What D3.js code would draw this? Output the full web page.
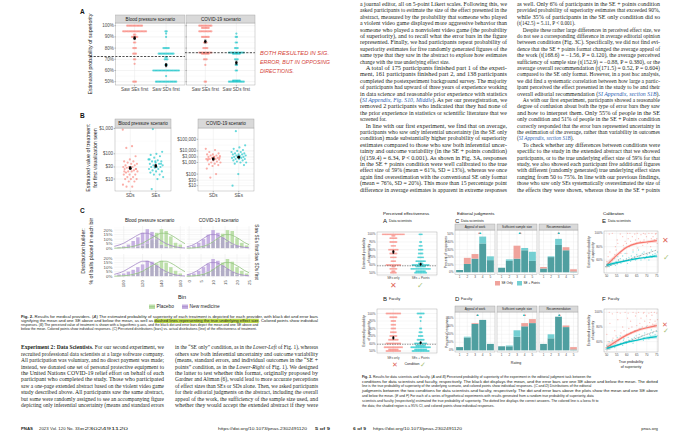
<!DOCTYPE html>
<html><head><meta charset="utf-8">
<script src="https://cdn.jsdelivr.net/npm/d3@7/dist/d3.min.js"></script>
<style>html,body{margin:0;padding:0;background:#fff}svg{display:block}</style>
</head><body>
<svg id="c" width="680" height="441" xmlns="http://www.w3.org/2000/svg"></svg>
<script>
// ================= DATA =================
// ---- Fig. 2A : probability of superiority (value %, number of responses) ----
const fig2Scenarios = ["Blood pressure scenario", "COVID-19 scenario"];
const fig2AConds = ["Saw SEs first", "Saw SDs first"];
const fig2APctTicks = [50, 60, 70, 80, 90, 100];
const fig2A_bp_SEs = [[100,12],[95,18],[92,2],[90,5],[85,2],[80,3],[75,3],[70,2],[66,1],[50,3]];
const fig2A_bp_SDs = [[95,2],[93,1],[90,1],[80,5],[75,12],[72,2],[70,3],[65,2],[60,20],[55,1],[50,16]];
const fig2A_cv_SEs = [[100,10],[98,6],[95,10],[90,6],[85,3],[80,4],[76,10],[75,6],[70,3],[65,1],[50,2]];
const fig2A_cv_SDs = [[93,1],[90,2],[85,2],[80,3],[76,12],[75,6],[70,3],[65,2],[60,2],[51,6],[50,12]];
const fig2A_bp_means = [[88.9,1.3],[64.8,1.4]];
const fig2A_cv_means = [[85.9,1.3],[66.9,1.4]];
const fig2A_trueEffect = [72.5, 75.9];
const fig2A_note = ["BOTH RESULTED IN SIG.", "ERROR, BUT IN OPPOSING", "DIRECTIONS."];

// ---- Fig. 2B : estimated value of treatment ($) ----
const fig2BConds = ["SDs", "SEs"];
const fig2B_bpTicks = [10, 30, 100, 1000];
const fig2B_cvTicks = [10, 30, 100, 1000, 3000, 10000, 100000];
const fig2B_bp_SDs = [900,200,170,80,60,50,50,45,40,40,35,35,30,30,30,28,25,25,25,22,20,20,20,18,15,15,15,12,12,10,10,10,8,8,6,5,5,25,30,20];
const fig2B_bp_SEs = [950,120,100,90,80,70,60,55,50,50,45,40,40,35,35,30,30,30,28,25,25,22,20,20,18,15,15,12,10,4,40,50,60];
const fig2B_cv_SDs = [15000,12000,8000,6000,5000,5000,4000,4000,3500,3000,3000,2500,2500,2000,2000,2000,1800,1500,1500,1200,1000,1000,800,700,600,500,300,100,50,2500,3000,2000];
const fig2B_cv_SEs = [500000,30000,20000,15000,12000,10000,8000,8000,6000,6000,5000,5000,5000,4000,4000,3500,3000,3000,3000,2500,2500,2000,2000,2000,1500,1500,1200,1000,1000,800,600,100,10];
const fig2B_bp_means = [[27,24,31],[33,29,38]];
const fig2B_cv_means = [[2000,1650,2450],[2900,2400,3500]];

// ---- Fig. 2C : distribution builder (% of balls per bin) ----
const fig2C_rows = ["Saw SEs first", "Saw SDs first"];
const fig2C_legend = ["Placebo", "New medicine"];
const fig2C_bpBins = [95,100,105,110,115,120,125,130,135,140,145,150,155,160];
const fig2C_bp_SEs_new  = [1,2,4,8,12,17,21,18,10,4,2,1,0,0];
const fig2C_bp_SEs_plac = [0,0,0,1,2,3,5,9,17,21,19,13,6,4];
const fig2C_bp_SDs_new  = [2,3,5,7,10,13,17,16,12,8,4,2,1,0];
const fig2C_bp_SDs_plac = [0,1,1,2,4,6,9,12,14,17,15,10,6,3];
const fig2C_cvBins = [0,2,4,6,8,10,12,14,16,18,20,22,24];
const fig2C_cv_SEs_new  = [1,3,6,10,15,20,17,12,7,4,3,1,1];
const fig2C_cv_SEs_plac = [0,0,1,2,4,7,11,16,20,19,11,6,3];
const fig2C_cv_SDs_new  = [2,3,6,10,14,19,17,12,8,5,2,1,1];
const fig2C_cv_SDs_plac = [0,1,2,3,5,8,12,15,19,16,10,6,3];
const fig2C_bpCurveX    = [90,95,100,105,110,115,120,125,130,135,140,145,150,155,160,165];
const fig2C_bpCurveNew  = [2,3.5,5.5,8.5,11.5,14.5,16.5,16.5,14.5,11.5,8,5,2.8,1.4,0.6,0.2];
const fig2C_bpCurvePlac = [0,0.2,0.5,1,2,3.5,5.5,8.5,11.5,14.5,16.5,16.5,14.5,11.5,8,5];
const fig2C_cvCurveX    = [-1,1,3,5,7,9,11,13,15,17,19,21,23,25];
const fig2C_cvCurveNew  = [1.5,3,5.5,9,12.5,15,15,13,10,6.5,3.8,2,1,0.4];
const fig2C_cvCurvePlac = [0,0.2,0.6,1.5,3,5.5,9,12.5,15,15,13,10,6.5,3.8];
const fig2C_bpTicks = [100,120,140,160];
const fig2C_cvTicks = [0,5,10,15,20,25];
const fig2C_pctTicks = [0,5,10,15,20];

// ---- Fig. 3A/B : perceived effectiveness (value %, count) ----
const fig3Conds = ["SEs only", "SEs + Points"];
const fig3_trueEffect = 59;
const fig3A_SEonly = [[100,18],[98,3],[95,6],[90,6],[85,4],[80,8],[78,2],[75,6],[70,5],[65,4],[60,12],[58,3],[55,6],[52,3],[50,5]];
const fig3A_SEpts  = [[100,3],[90,2],[85,3],[80,4],[75,4],[70,5],[65,8],[62,4],[60,14],[58,8],[55,16],[52,8],[50,10]];
const fig3B_SEonly = [[100,12],[95,6],[90,4],[85,4],[80,4],[75,5],[70,6],[65,8],[60,12],[55,15],[52,8],[50,12]];
const fig3B_SEpts  = [[100,6],[95,2],[90,1],[80,2],[75,3],[70,4],[65,6],[60,10],[57,8],[55,16],[52,10],[50,14]];
const fig3A_means = [[77,2],[61,1.4]];
const fig3B_means = [[67.5,1.8],[61,1.3]];

// ---- Fig. 3C/D : editorial judgments (% of responses by rating 1..5) ----
const fig3Facets = ["Appeal of work", "Sufficient sample size", "Recommendation"];
const fig3Ratings = [1,2,3,4,5];
const fig3C_SEonly = [[3,19,24,38,16],[6,15,35,29,15],[7,20,36,33,4]];
const fig3C_SEpts  = [[3,11,18,47,21],[6,17,18,32,27],[5,21,44,29,1]];
const fig3D_SEonly = [[4,16,34,38,8],[5,5,17,34,39],[8,15,42,31,4]];
const fig3D_SEpts  = [[4,17,33,38,8],[5,6,25,30,34],[8,20,42,29,1]];
const fig3C_meanRed = [3.55,3.45,3.0], fig3C_meanTeal = [3.7,3.35,3.05];
const fig3D_meanRed = [3.3,4.05,3.15], fig3D_meanTeal = [3.35,3.9,3.1];
const fig3C_legend = ["SE Only", "SE + Points"];

// ---- Fig. 3E/F : calibration (true %, estimated %) ----
const fig3E_SEonly = [[50,50],[50,58],[51,65],[51,99],[52,55],[52,72],[53,62],[53,100],[54,80],[54,68],[55,75],[55,90],[56,60],[56,85],[57,70],[57,99],[58,82],[58,95],[59,78],[59,88],[60,85],[60,100],[60,70],[61,92],[61,80],[62,88],[62,100],[63,75],[63,95],[64,90],[64,99],[65,85],[65,100],[66,92],[66,78],[67,98],[67,88],[68,100],[68,82],[69,90],[69,99],[70,95],[70,85],[71,100],[71,88],[72,92],[72,80],[73,100],[73,95],[74,90],[74,99],[75,92],[75,100],[75,85]];
const fig3E_SEpts  = [[50,50],[50,53],[51,55],[51,50],[52,52],[52,58],[53,55],[53,60],[54,52],[54,62],[55,58],[55,54],[56,60],[56,65],[57,55],[57,62],[58,60],[58,66],[59,58],[59,70],[60,62],[60,55],[61,64],[61,60],[62,66],[62,58],[63,62],[63,72],[64,65],[64,60],[65,68],[65,62],[66,64],[66,75],[67,66],[67,60],[68,70],[68,64],[69,62],[69,72],[70,68],[70,65],[71,70],[71,60],[72,66],[72,75],[73,68],[73,64],[74,70],[74,66],[75,72],[75,65]];
const fig3F_SEonly = [[50,52],[50,70],[51,60],[51,100],[52,55],[52,85],[53,65],[53,98],[54,58],[54,75],[55,68],[55,100],[56,62],[56,90],[57,72],[57,99],[58,66],[58,80],[59,75],[59,100],[60,70],[60,92],[61,78],[61,99],[62,72],[62,88],[63,80],[63,100],[64,75],[64,95],[65,82],[65,99],[66,78],[66,100],[67,85],[67,92],[68,80],[68,99],[69,88],[69,100],[70,82],[70,95],[71,86],[71,99],[72,90],[72,100],[73,84],[73,96],[74,88],[74,100],[75,90],[75,99]];
const fig3F_SEpts  = [[50,50],[50,55],[51,52],[51,60],[52,54],[52,50],[53,58],[53,62],[54,55],[54,52],[55,60],[55,66],[56,56],[56,62],[57,58],[57,68],[58,62],[58,55],[59,64],[59,60],[60,58],[60,70],[61,62],[61,66],[62,60],[62,72],[63,64],[63,58],[64,66],[64,75],[65,62],[65,68],[66,70],[66,64],[67,66],[67,78],[68,68],[68,62],[69,72],[69,66],[70,65],[70,80],[71,70],[71,64],[72,68],[72,76],[73,72],[73,66],[74,70],[74,82],[75,68],[75,74]];
// loess fits: [true %, fit, lower, upper]
const fig3E_fitRed  = [[50,52,47,57],[55,67,64,70],[60,79,77,81],[65,85,83,87],[70,87,85,89],[75,89,86,92]];
const fig3E_fitTeal = [[50,52,49,55],[55,56,54,58],[60,59,57.5,60.5],[65,62,60.5,63.5],[70,64,62.5,65.5],[75,66,63.5,68.5]];
const fig3F_fitRed  = [[50,52,47,57],[55,61,58,64],[60,69,67,71],[65,75,73,77],[70,79,77,81],[75,82,79,85]];
const fig3F_fitTeal = [[50,51,48,54],[55,55,53,57],[60,59,57.5,60.5],[65,62,60.5,63.5],[70,65,63,67],[75,67,64.5,69.5]];
const fig3_xTicks = [50,55,60,65,70,75];
const fig3_yTicks = [60,80,100];

// ---- Page text ----
const p5ColA = [
"**Experiment 2: Data Scientists.** For our second experiment, we",
"recruited professional data scientists at a large software company.",
"All participation was voluntary, and no direct payment was made;",
"instead, we donated one set of personal protective equipment to",
"the United Nations COVID-19 relief effort on behalf of each",
"participant who completed the study. Those who participated",
"saw a one-page extended abstract based on the violent video game",
"study described above. All participants saw the same abstract,",
"but some were randomly assigned to see an accompanying figure",
"depicting only inferential uncertainty (means and standard errors"];
const p5ColB = [
"in the “SE only” condition, as in the *Lower-Left* of Fig. 1), whereas",
"others saw both inferential uncertainty and outcome variability",
"(means, standard errors, and individual outcomes in the “SE +",
"points” condition, as in the *Lower-Right* of Fig. 1). We designed",
"the latter to test whether this format, originally proposed by",
"Gardner and Altman (6), would lead to more accurate perceptions",
"of effect sizes than SEs or SDs alone. Then, we asked participants",
"for their editorial judgments on the abstract, including the overall",
"appeal of the work, the sufficiency of the sample size used, and",
"whether they would accept the extended abstract if they were"];
const p6ColA = [
"a journal editor, all on 5-point Likert scales. Following this, we",
"asked participants to estimate the size of the effect presented in the",
"abstract, measured by the probability that someone who played",
"a violent video game displayed more aggressive behavior than",
"someone who played a nonviolent video game (the probability",
"of superiority), and to recall what the error bars in the figure",
"represented. Finally, we had participants repeat probability of",
"superiority estimates for five randomly generated figures of the",
"same type that they saw in the abstract to explore how estimates",
"change with the true underlying effect size.",
"  A total of 175 participants finished part 1 of the experi-",
"ment, 161 participants finished part 2, and 138 participants",
"completed the postexperiment background survey. The majority",
"of participants had upward of three years of experience working",
"in data science and reasonable prior experience with statistics",
"([[SI Appendix, Fig. S10, Middle]]). As per our preregistration, we",
"removed 2 participants who indicated that they had none of",
"the prior experience in statistics or scientific literature that we",
"screened for.",
"  In line with our first experiment, we find that on average,",
"participants who saw only inferential uncertainty (in the SE only",
"condition) made substantially higher probability of superiority",
"estimates compared to those who saw both inferential uncer-",
"tainty and outcome variability (in the SE + points condition)",
"(t(159.4) = 6.34, P < 0.001). As shown in Fig. 3A, responses",
"in the SE + points condition were well calibrated to the true",
"effect size of 59% (mean = 61%, SD = 13%), whereas we once",
"again find overestimation with the conventional SE only format",
"(mean = 76%, SD = 20%). This more than 15 percentage point",
"difference in average estimates is apparent in extreme responses"];
const p6ColB = [
"as well. Only 6% of participants in the SE + points condition",
"provided probability of superiority estimates that exceeded 90%,",
"while 35% of participants in the SE only condition did so",
"(t(142.5) = 5.11, P < 0.001).",
"  Despite these rather large differences in perceived effect size, we",
"do not see a corresponding difference in average editorial opinion",
"between conditions (Fig. 3C). Specifically, we did not find evi-",
"dence that the SE + points format changed the average appeal of",
"the work (t(168.6) = −1.56, P = 0.120), the average perceived",
"sufficiency of sample size (t(152.9) = −0.88, P = 0.380), or the",
"average overall recommendation (t(171.5) = 0.52, P = 0.604)",
"compared to the SE only format. However, in a post hoc analysis,",
"we did find a systematic correlation between how large a partic-",
"ipant perceived the effect presented in the study to be and their",
"overall editorial recommendation ([[SI Appendix, section S1B]]).",
"  As with our first experiment, participants showed a reasonable",
"degree of confusion about both the type of error bars they saw",
"and how to interpret them. Only 55% of people in the SE",
"only condition and 51% of people in the SE + Points condition",
"correctly responded that the error bars represented uncertainty in",
"the estimation of the average, rather than variability in outcomes",
"([[SI Appendix, section S1B]]).",
"  To check whether any differences between conditions were",
"specific to the study in the extended abstract that we showed",
"participants, or to the true underlying effect size of 59% for that",
"study, we also showed each participant five additional figures",
"with different (randomly generated) true underlying effect sizes",
"ranging from 50 to 75%. In line with our previous findings,",
"those who saw only SEs systematically overestimated the size of",
"the effects they were shown, whereas those in the SE + points"];
const fig2Caption = [
"**Fig. 2.**   Results for medical providers. (*A*) The estimated probability of superiority of each treatment is depicted for each provider, with black dot and error bars",
"signifying the mean and one SE above and below the mean, as well as ==dashed lines representing the true underlying effect size==. Colored points show individual",
"responses. (*B*) The perceived value of treatment is shown with a logarithmic y-axis, and the black dot and error bars depict the mean and one SE above and",
"below the mean. Colored points show individual responses. (*C*) Perceived distributions (bars) vs. actual distributions (line) of the effectiveness of treatment."];
const fig3Caption = [
"**Fig. 3.**   Results for data scientists and faculty. (*A* and *B*) Perceived probability of superiority of the experiment in the editorial judgment task between the",
"conditions for data scientists and faculty, respectively. The black dot displays the mean, and the error bars are one SE above and below the mean. The dotted",
"line is the true probability of superiority of the underlying scenario, and colored points show individual responses. (*C* and *D*) Distributions of the editorial",
"judgments between the two conditions for data scientists and faculty, respectively. The dot and error bars above the plots show the mean and one SE above",
"and below the mean. (*E* and *F*) For each of a series of hypothetical experiments with results generated from a random true probability of superiority, data",
"scientists and faculty (respectively) estimated the true probability of superiority. The dotted line displays the correct answers. The colored line is a loess fit to",
"the data; the shaded region is a 95% CI, and colored points show individual responses."];

// ================= DRAWING =================
const svg = d3.select("#c");
const SANS = "'Liberation Sans', Arial, Helvetica, sans-serif";
const SERIF = "'Liberation Serif', 'Times New Roman', serif";
const RED = "#F8766D", TEAL = "#00BFC4";
const GRID = "#e9e9e9", GRIDm = "#f4f4f4", BORDER = "#9a9a9a";
R(svg, 0, 0, 680, 441, "#fff");

function T(g,x,y,s,o={}){
  const t=g.append("text").attr("x",x).attr("y",y).text(s)
    .attr("font-family",o.ff||SANS).attr("font-size",o.fs||4)
    .attr("fill",o.fill||"#333").attr("text-anchor",o.anchor||"start")
    .attr("dominant-baseline","central");
  if(o.bold)t.attr("font-weight","bold");
  if(o.italic)t.attr("font-style","italic");
  if(o.rot)t.attr("transform",`rotate(${o.rot},${x},${y})`);
  if(o.len)t.attr("textLength",o.len).attr("lengthAdjust","spacingAndGlyphs");
  if(o.ls)t.attr("letter-spacing",o.ls);
  return t;
}
function L(g,x1,y1,x2,y2,c,w,dash){const l=g.append("line").attr("x1",x1).attr("y1",y1).attr("x2",x2).attr("y2",y2).attr("stroke",c).attr("stroke-width",w);if(dash)l.attr("stroke-dasharray",dash);return l;}
function R(g,x,y,w,h,fill,stroke,sw){const r=g.append("rect").attr("x",x).attr("y",y).attr("width",Math.max(0,w)).attr("height",Math.max(0,h)).attr("fill",fill);if(stroke)r.attr("stroke",stroke).attr("stroke-width",sw||0.5);return r;}
function C(g,x,y,r,fill,op){return g.append("circle").attr("cx",x).attr("cy",y).attr("r",r).attr("fill",fill).attr("fill-opacity",op==null?1:op);}

// swarm rows horizontally
function swarm(g,rows,cx,y,color,sp,r,op){
  rows.forEach(([v,n])=>{for(let k=0;k<n;k++)C(g,cx+(k-(n-1)/2)*sp,y(v),r,color,op);});
}
function meanBar(g,cx,ylo,yhi,ym,cap,r){
  L(g,cx,ylo,cx,yhi,"#000",0.6);
  L(g,cx-cap,ylo,cx+cap,ylo,"#000",0.6);L(g,cx-cap,yhi,cx+cap,yhi,"#000",0.6);
  C(g,cx,ym,r,"#000",1);
}

// ---------- rich text lines ----------
const hlLayer = svg.append("g");
const textLayer = svg.append("g");
function richLine(s,x,y,fs,ff,width,fill){
  let indent=0;
  if(/^\s\s/.test(s)){indent=fs*1.1;s=s.trim();}
  const t=textLayer.append("text").attr("x",x+indent).attr("y",y).attr("font-size",fs)
    .attr("font-family",ff).attr("fill",fill).attr("dominant-baseline","central");
  const parts=s.split(/(\*\*[^*]+\*\*|\*[^*]+\*|\[\[[^\]]+\]\]|==[^=]+==)/).filter(p=>p);
  let hl=null, idx=0;
  parts.forEach(p=>{
    let s2=p; const ts=t.append("tspan");
    if(p.startsWith("**")){s2=p.slice(2,-2);ts.attr("font-weight","bold");}
    else if(p.startsWith("[[")){s2=p.slice(2,-2);ts.attr("font-style","italic").attr("fill","#2f5fb0");}
    else if(p.startsWith("==")){s2=p.slice(2,-2);hl=[idx,idx+s2.length-1];}
    else if(p.startsWith("*")){s2=p.slice(1,-1);ts.attr("font-style","italic");}
    ts.text(s2); idx+=s2.length;
  });
  const w=t.node().getComputedTextLength();
  const full=width-indent;
  if(w>full*0.8) t.attr("textLength",full).attr("lengthAdjust","spacingAndGlyphs");
  if(hl){
    try{
      const a=t.node().getExtentOfChar(hl[0]), b=t.node().getExtentOfChar(hl[1]);
      R(hlLayer,a.x,y-fs*0.62,b.x+b.width-a.x,fs*1.24,"#bcd84c");
    }catch(e){}
  }
  return t;
}
function block(lines,x,y0,dy,width,fs,ff,fill){
  lines.forEach((s,i)=>richLine(s,x,y0+i*dy,fs,ff,width,fill||"#231f20"));
}

// ================= FIG 2A =================
(function(){
  const g=svg.append("g");
  T(g,80,11,"A",{fs:6.5,bold:true,fill:"#111"});
  T(g,90,54,"Estimated probability of superiority",{fs:5.3,anchor:"middle",rot:-90,fill:"#222"});
  const y=d3.scaleLinear().domain([50,100]).range([81.7,25.7]);
  const panels=[[115.7,185],[186.7,255]];
  const data=[[fig2A_bp_SEs,fig2A_bp_SDs],[fig2A_cv_SEs,fig2A_cv_SDs]];
  const means=[fig2A_bp_means,fig2A_cv_means];
  const dashX=[[90,185],[185,255]];
  panels.forEach(([x0,x1],pi)=>{
    R(g,x0,23,x1-x0,62,"#fff");
    d3.range(55,100,10).forEach(v=>L(g,x0,y(v),x1,y(v),GRIDm,0.4));
    fig2APctTicks.forEach(v=>L(g,x0,y(v),x1,y(v),GRID,0.5));
    const xs=d3.scalePoint().domain(fig2AConds).range([x0,x1]).padding(0.6);
    fig2AConds.forEach(c=>L(g,xs(c),23,xs(c),85,GRID,0.5));
    fig2AConds.forEach((c,ci)=>swarm(g,data[pi][ci],xs(c),y,ci?TEAL:RED,1.35,1.1,0.6));
    L(g,dashX[pi][0],y(fig2A_trueEffect[pi]),dashX[pi][1],y(fig2A_trueEffect[pi]),"#222",0.8,"2.2,1.4");
    fig2AConds.forEach((c,ci)=>{const [m,se]=means[pi][ci];meanBar(g,xs(c),y(m-se),y(m+se),y(m),1.1,1.3);});
    R(g,x0,23,x1-x0,62,"none",BORDER,0.4);
    R(g,x0,15,x1-x0,8,"#d9d9d9",BORDER,0.4);
    T(g,(x0+x1)/2,19.2,fig2Scenarios[pi],{fs:4.6,anchor:"middle",fill:"#1a1a1a"});
    fig2AConds.forEach(c=>{L(g,xs(c),85,xs(c),86.3,"#555",0.4);T(g,xs(c),89.2,c,{fs:4.6,anchor:"middle",fill:"#4d4d4d"});});
    fig2APctTicks.forEach(v=>L(g,x0-1.3,y(v),x0,y(v),"#555",0.4));
    if(pi===0) fig2APctTicks.forEach(v=>T(g,x0-2,y(v),v+"%",{fs:4.5,anchor:"end",fill:"#4d4d4d"}));
  });
  fig2A_note.forEach((s,i)=>T(g,260,53+i*9,s,{fs:5.3,fill:"#d4453a",italic:true,len:[69,70,34][i]}));
})();

// ================= FIG 2B =================
(function(){
  const g=svg.append("g");
  T(g,80,115,"B",{fs:6.5,bold:true,fill:"#111"});
  T(g,87.5,158,"Estimated value of treatment",{fs:5.3,anchor:"middle",rot:-90,fill:"#222"});
  T(g,95,158,"for first visualization seen",{fs:5.3,anchor:"middle",rot:-90,fill:"#222"});
  const fmt=v=>"$"+d3.format(",")(v);
  const cfgs=[
    {x0:115,x1:171,y:d3.scaleLog().domain([3.36,1050]).range([191,128]),ticks:fig2B_bpTicks,data:[fig2B_bp_SDs,fig2B_bp_SEs],means:fig2B_bp_means,title:fig2Scenarios[0]},
    {x0:198,x1:254,y:d3.scaleLog().domain([3.5,940000]).range([191,128]),ticks:fig2B_cvTicks,data:[fig2B_cv_SDs,fig2B_cv_SEs],means:fig2B_cv_means,title:fig2Scenarios[1]}];
  cfgs.forEach(cf=>{
    const {x0,x1,y}=cf;
    R(g,x0,128,x1-x0,63,"#fff");
    cf.ticks.forEach((v,i)=>{ if(i<cf.ticks.length-1){const mid=Math.sqrt(v*cf.ticks[i+1]);L(g,x0,y(mid),x1,y(mid),GRIDm,0.4);} });
    cf.ticks.forEach(v=>L(g,x0,y(v),x1,y(v),GRID,0.5));
    const xs=d3.scalePoint().domain(fig2BConds).range([x0,x1]).padding(0.6);
    fig2BConds.forEach(c=>L(g,xs(c),128,xs(c),191,GRID,0.5));
    fig2BConds.forEach((c,ci)=>{
      cf.data[ci].forEach((v,i)=>{const off=(((i*0.6180339+ci*0.31)%1)-0.5)*15;C(g,xs(c)+off,y(v),1.1,ci?TEAL:RED,0.6);});
      const [m,lo,hi]=cf.means[ci]; meanBar(g,xs(c),y(lo),y(hi),y(m),1.1,1.4);
    });
    R(g,x0,128,x1-x0,63,"none",BORDER,0.4);
    R(g,x0,119,x1-x0,9,"#d9d9d9",BORDER,0.4);
    T(g,(x0+x1)/2,123.7,cf.title,{fs:4.6,anchor:"middle",fill:"#1a1a1a"});
    cf.ticks.forEach(v=>{L(g,x0-1.3,y(v),x0,y(v),"#555",0.4);T(g,x0-2,y(v),fmt(v),{fs:4.5,anchor:"end",fill:"#4d4d4d"});});
    fig2BConds.forEach(c=>{L(g,xs(c),191,xs(c),192.3,"#555",0.4);T(g,xs(c),195.3,c,{fs:4.6,anchor:"middle",fill:"#4d4d4d"});});
  });
})();

// ================= FIG 2C =================
(function(){
  const g=svg.append("g");
  T(g,80,210,"C",{fs:6.5,bold:true,fill:"#111"});
  T(g,83,251,"Distribution builder:",{fs:5.3,anchor:"middle",rot:-90,fill:"#222"});
  T(g,90.5,251,"% of balls placed in each bin",{fs:5.3,anchor:"middle",rot:-90,fill:"#222"});
  const cols=[
    {x0:114.3,x1:185,x:d3.scaleLinear().domain([90,165]).range([114.3,185]),bins:fig2C_bpBins,bw:5,ticks:fig2C_bpTicks,cx:fig2C_bpCurveX,cn:fig2C_bpCurveNew,cp:fig2C_bpCurvePlac,
     bars:[[fig2C_bp_SEs_new,fig2C_bp_SEs_plac],[fig2C_bp_SDs_new,fig2C_bp_SDs_plac]]},
    {x0:186.7,x1:250.7,x:d3.scaleLinear().domain([-1,25.7]).range([186.7,250.7]),bins:fig2C_cvBins,bw:2,ticks:fig2C_cvTicks,cx:fig2C_cvCurveX,cn:fig2C_cvCurveNew,cp:fig2C_cvCurvePlac,
     bars:[[fig2C_cv_SEs_new,fig2C_cv_SEs_plac],[fig2C_cv_SDs_new,fig2C_cv_SDs_plac]]}];
  const rows=[{y0:226,y1:250},{y0:254,y1:278}];
  const NEW="#c6b1e2", PLAC="#bddfab", OVER="#b2adc6", NEWL="#a385c8", PLACL="#93c47f";
  cols.forEach((cf,ci)=>{
    T(g,(cf.x0+cf.x1)/2,220,fig2Scenarios[ci],{fs:4.6,anchor:"middle",fill:"#1a1a1a"});
    rows.forEach((rw,ri)=>{
      const y=d3.scaleLinear().domain([-2,24.5]).range([rw.y1,rw.y0]);
      // grid
      fig2C_pctTicks.forEach(v=>{L(g,cf.x0,y(v),cf.x1,y(v),GRID,0.5); L(g,cf.x0,y(v+2.5),cf.x1,y(v+2.5),GRIDm,0.35);});
      cf.ticks.forEach(v=>{const xx=cf.x(v); if(xx<=cf.x1+0.1) L(g,xx,rw.y0,xx,rw.y1,GRID,0.5);});
      const [nw,pl]=cf.bars[ri];
      const half=cf.bw*0.37;
      cf.bins.forEach((b,i)=>{
        const a=nw[i], p=pl[i], lo=Math.min(a,p), hi=Math.max(a,p);
        const xl=cf.x(b-half), w=cf.x(b+half)-cf.x(b-half);
        if(lo>0) R(g,xl,y(lo),w,y(0)-y(lo),OVER);
        if(hi>lo) R(g,xl,y(hi),w,y(lo)-y(hi),a>p?NEW:PLAC);
      });
      const ln=d3.line().x(d=>cf.x(d[0])).y(d=>y(d[1])).curve(d3.curveMonotoneX);
      g.append("path").attr("d",ln(cf.cx.map((v,i)=>[v,cf.cn[i]]))).attr("fill","none").attr("stroke",NEWL).attr("stroke-width",0.8);
      g.append("path").attr("d",ln(cf.cx.map((v,i)=>[v,cf.cp[i]]))).attr("fill","none").attr("stroke",PLACL).attr("stroke-width",0.8);
      if(ci===0) fig2C_pctTicks.forEach(v=>T(g,cf.x0-2,y(v),v+"%",{fs:4.4,anchor:"end",fill:"#4d4d4d"}));
      if(ci===1) T(g,256.5,(rw.y0+rw.y1)/2,fig2C_rows[ri],{fs:4.6,anchor:"middle",rot:90,fill:"#1a1a1a"});
    });
    cf.ticks.forEach(v=>{const xx=cf.x(v);T(g,xx,280,String(v),{fs:4.4,anchor:"end",rot:-90,fill:"#4d4d4d"});});
  });
  T(g,182,297,"Bin",{fs:5.6,anchor:"middle",fill:"#222"});
  // legend
  [[149,PLAC,PLACL,fig2C_legend[0]],[182,NEW,NEWL,fig2C_legend[1]]].forEach(([x,f,lc,lab])=>{
    R(g,x,304.5,6,4.5,f); L(g,x,306.75,x+6,306.75,lc,0.8);
    T(g,x+7.5,306.8,lab,{fs:4.8,fill:"#222"});
  });
})();

// ================= FIG 3 =================
(function(){
  const g=svg.append("g");
  T(g,383,213,"Perceived effectiveness",{fs:4.4,fill:"#111"});
  T(g,457,213,"Editorial judgments",{fs:4.4,fill:"#111"});
  T(g,603,213,"Calibration",{fs:4.4,fill:"#111"});
  const lab=(x,y,L1,L2)=>{T(g,x,y,L1,{fs:6,bold:false,fill:"#111"});T(g,x+6,y+0.3,L2,{fs:3.5,fill:"#222"});};
  lab(383,221,"A","Data scientists"); lab(455,221,"C","Data scientists"); lab(602,221,"E","Data scientists");
  lab(383,299,"B","Faculty"); lab(455,299,"D","Faculty"); lab(602,299,"F","Faculty");
  const XM="#e0675a", CK="#a9c37a";

  // ---- A/B ----
  const ab=[
    {y0:232,y1:275,y:d3.scaleLinear().domain([50,100]).range([272.7,234.3]),data:[fig3A_SEonly,fig3A_SEpts],means:fig3A_means,ticks:[50,60,70,80,90,100],xl:278.3},
    {y0:309,y1:353,y:d3.scaleLinear().domain([50,90]).range([351,321]),data:[fig3B_SEonly,fig3B_SEpts],means:fig3B_means,ticks:[50,60,70,80,90,100],xl:357.7}];
  const x0=377,x1=437;
  ab.forEach((cf,i)=>{
    const y=cf.y;
    R(g,x0,cf.y0,x1-x0,cf.y1-cf.y0,"#fff");
    cf.ticks.forEach(v=>{L(g,x0,y(v),x1,y(v),GRID,0.4);L(g,x0,y(v-5),x1,y(v-5),GRIDm,0.3);});
    const xs=d3.scalePoint().domain(fig3Conds).range([x0,x1]).padding(0.6);
    fig3Conds.forEach(c=>L(g,xs(c),cf.y0,xs(c),cf.y1,GRID,0.4));
    fig3Conds.forEach((c,ci)=>swarm(g,cf.data[ci],xs(c),y,ci?TEAL:RED,1.25,0.9,0.6));
    L(g,x0,y(fig3_trueEffect),x1,y(fig3_trueEffect),"#333",0.5,"1.5,1");
    fig3Conds.forEach((c,ci)=>{const [m,se]=cf.means[ci];meanBar(g,xs(c),y(m-se),y(m+se),y(m),0.8,1.1);});
    R(g,x0,cf.y0,x1-x0,cf.y1-cf.y0,"none",BORDER,0.4);
    cf.ticks.forEach(v=>T(g,x0-1.5,y(v),v+"%",{fs:3.1,anchor:"end",fill:"#4d4d4d"}));
    fig3Conds.forEach(c=>T(g,xs(c),cf.xl,c,{fs:3.1,anchor:"middle",fill:"#4d4d4d"}));
    const cy=(cf.y0+cf.y1)/2;
    T(g,364,cy,"Estimated probability",{fs:3.4,anchor:"middle",rot:-90,fill:"#222"});
    T(g,368.5,cy,"of superiority",{fs:3.4,anchor:"middle",rot:-90,fill:"#222"});
    if(i===0){T(g,xs(fig3Conds[0]),285.5,"✕",{fs:8,anchor:"middle",fill:XM});T(g,xs(fig3Conds[1]),285.5,"✓",{fs:8,anchor:"middle",fill:CK});}
    else{T(g,xs(fig3Conds[0])+2,364,"✕",{fs:6.5,anchor:"middle",fill:XM});T(g,412,364,"Condition",{fs:3.6,anchor:"middle",fill:"#222"});T(g,xs(fig3Conds[1])+2,364,"✓",{fs:7,anchor:"middle",fill:CK});}
  });

  // ---- C/D ----
  const panels=[[455,495],[497,537],[539,578]];
  const OV="#4f9fa0", TL="#74cfd2", RL="#f0a39c";
  const cd=[
    {s0:224,s1:230,p1:274.3,y:d3.scaleLinear().domain([0,50]).range([272.3,234.3]),ticks:[0,10,20,30,40,50],red:fig3C_SEonly,teal:fig3C_SEpts,mr:fig3C_meanRed,mt:fig3C_meanTeal},
    {s0:306,s1:312,p1:352,y:d3.scaleLinear().domain([0,40]).range([350.3,318.3]),ticks:[0,10,20,30,40],red:fig3D_SEonly,teal:fig3D_SEpts,mr:fig3D_meanRed,mt:fig3D_meanTeal}];
  cd.forEach((cf,ri)=>{
    const y=cf.y;
    panels.forEach(([a,b],pi)=>{
      R(g,a,cf.s1,b-a,cf.p1-cf.s1,"#fff");
      const xs=d3.scaleLinear().domain([0.4,5.6]).range([a,b]);
      cf.ticks.forEach(v=>{L(g,a,y(v),b,y(v),GRID,0.4);L(g,a,y(v+5),b,y(v+5),GRIDm,0.3);});
      fig3Ratings.forEach(r=>L(g,xs(r),cf.s1,xs(r),cf.p1,GRID,0.4));
      const bw=xs(0.9)-xs(0);
      fig3Ratings.forEach((r,i)=>{
        const rv=cf.red[pi][i], tv=cf.teal[pi][i], lo=Math.min(rv,tv), hi=Math.max(rv,tv);
        const xl=xs(r)-bw/2;
        if(lo>0) R(g,xl,y(lo),bw,y(0)-y(lo),OV);
        if(hi>lo) R(g,xl,y(hi),bw,y(lo)-y(hi),rv>tv?RL:TL);
      });
      const my=cf.s1+3.3;
      [[cf.mr[pi],RED],[cf.mt[pi],TEAL]].forEach(([m,col])=>{L(g,xs(m-0.13),my,xs(m+0.13),my,col,0.5);C(g,xs(m),my,0.8,col,0.9);});
      R(g,a,cf.s1,b-a,cf.p1-cf.s1,"none",BORDER,0.4);
      R(g,a,cf.s0,b-a,cf.s1-cf.s0,"#d9d9d9",BORDER,0.4);
      T(g,(a+b)/2,(cf.s0+cf.s1)/2+0.2,fig3Facets[pi],{fs:3.1,anchor:"middle",fill:"#1a1a1a"});
      fig3Ratings.forEach(r=>T(g,xs(r),cf.p1+3,String(r),{fs:3.1,anchor:"middle",fill:"#4d4d4d"}));
      if(pi===0) cf.ticks.forEach(v=>T(g,a-1.5,y(v),v+"%",{fs:3.1,anchor:"end",fill:"#4d4d4d"}));
    });
    T(g,446.5,(cf.s1+cf.p1)/2,"Percent of responses",{fs:3.4,anchor:"middle",rot:-90,fill:"#222"});
  });
  // legend C
  [[495,RL,fig3C_legend[0]],[517,TL,fig3C_legend[1]]].forEach(([x,f,t])=>{R(g,x,281,5,4.5,f);T(g,x+6.5,283.3,t,{fs:3.1,fill:"#222"});});
  T(g,516,362.5,"Rating",{fs:3.6,anchor:"middle",fill:"#222"});

  // ---- E/F ----
  const ef=[
    {y0:231,y1:273,y:d3.scaleLinear().domain([40.5,103.5]).range([273,231]),pr:fig3E_SEonly,pt:fig3E_SEpts,fr:fig3E_fitRed,ft:fig3E_fitTeal,xm:[240,257]},
    {y0:309,y1:352,y:d3.scaleLinear().domain([46,104.5]).range([352,309]),pr:fig3F_SEonly,pt:fig3F_SEpts,fr:fig3F_fitRed,ft:fig3F_fitTeal,xm:[324,330]}];
  const ex0=604,ex1=658;
  const x=d3.scaleLinear().domain([48.7,75.6]).range([ex0,ex1]);
  ef.forEach((cf,i)=>{
    const y=cf.y;
    R(g,ex0,cf.y0,ex1-ex0,cf.y1-cf.y0,"#fff");
    fig3_yTicks.forEach(v=>{L(g,ex0,y(v),ex1,y(v),GRID,0.4);L(g,ex0,y(v-10),ex1,y(v-10),GRIDm,0.3);});
    fig3_xTicks.forEach(v=>L(g,x(v),cf.y0,x(v),cf.y1,GRID,0.4));
    cf.pr.forEach(([a,b],k)=>C(g,x(a+((k*0.618)%1-0.5)*0.9),y(b),0.65,RED,0.45));
    cf.pt.forEach(([a,b],k)=>C(g,x(a+((k*0.618)%1-0.5)*0.9),y(b),0.65,TEAL,0.45));
    L(g,x(50),y(50),x(75),y(75),"#333",0.5,"0.8,0.8");
    const area=d3.area().x(d=>x(d[0])).y0(d=>y(d[2])).y1(d=>y(d[3])).curve(d3.curveMonotoneX);
    const ln=d3.line().x(d=>x(d[0])).y(d=>y(d[1])).curve(d3.curveMonotoneX);
    [[cf.fr,RED],[cf.ft,TEAL]].forEach(([fit,col])=>{
      g.append("path").attr("d",area(fit)).attr("fill",col).attr("fill-opacity",0.25);
      g.append("path").attr("d",ln(fit)).attr("fill","none").attr("stroke",col).attr("stroke-width",1.2);
    });
    R(g,ex0,cf.y0,ex1-ex0,cf.y1-cf.y0,"none",BORDER,0.4);
    fig3_yTicks.forEach(v=>T(g,ex0-1.5,y(v),v+"%",{fs:3.1,anchor:"end",fill:"#4d4d4d"}));
    fig3_xTicks.forEach(v=>T(g,x(v),cf.y1+3.3,String(v),{fs:3.1,anchor:"middle",fill:"#4d4d4d"}));
    const cy=(cf.y0+cf.y1)/2;
    T(g,588.5,cy,"Estimated probability",{fs:3.4,anchor:"middle",rot:-90,fill:"#222"});
    T(g,593,cy,"of superiority",{fs:3.4,anchor:"middle",rot:-90,fill:"#222"});
    T(g,665,cf.xm[0],"✕",{fs:i?6.5:8,anchor:"middle",fill:XM});
    T(g,666,cf.xm[1],"✓",{fs:i?6.5:8,anchor:"middle",fill:CK});
  });
  T(g,631,362,"True probability",{fs:3.6,anchor:"middle",fill:"#222"});
  T(g,631,366.5,"of superiority",{fs:3.6,anchor:"middle",fill:"#222"});
})();

// ================= TEXT =================
block(fig2Caption,21,316.7,4.2,297,3.45,SANS,"#231f20");
block(p5ColA,21,347.3,6.4,143,5.2,SERIF);
block(p5ColB,175,347.3,6.4,143,5.2,SERIF);
block(p6ColA,360,4,6.4,147,5.2,SERIF);
block(p6ColB,517,4,6.4,143,5.2,SERIF);
block(fig3Caption,362,376.7,4.8,296,3.45,SANS,"#231f20");
// footers
(function(){
  const g=svg.append("g");
  T(g,21,428,"PNAS",{fs:4.3,bold:true,fill:"#231f20"});
  T(g,39,428,"2023",{fs:4.3,fill:"#231f20"});
  T(g,50,428,"Vol. 120",{fs:4.3,fill:"#231f20"});
  T(g,67,428,"No. 33",{fs:4.3,fill:"#231f20"});
  T(g,80,428,"e2302491120",{fs:4.3,fill:"#231f20",len:48});
  T(g,218,428,"https://doi.org/10.1073/pnas.2302491120",{fs:4.3,fill:"#231f20",len:89});
  T(g,315,428,"5 of 9",{fs:4.3,bold:true,fill:"#231f20",len:15});
  T(g,353,428,"6 of 9",{fs:4.3,bold:true,fill:"#231f20",len:13});
  T(g,373,428,"https://doi.org/10.1073/pnas.2302491120",{fs:4.3,fill:"#231f20",len:89});
  T(g,658,428,"pnas.org",{fs:4.3,fill:"#231f20",anchor:"end"});
})();
</script>
</body></html>
